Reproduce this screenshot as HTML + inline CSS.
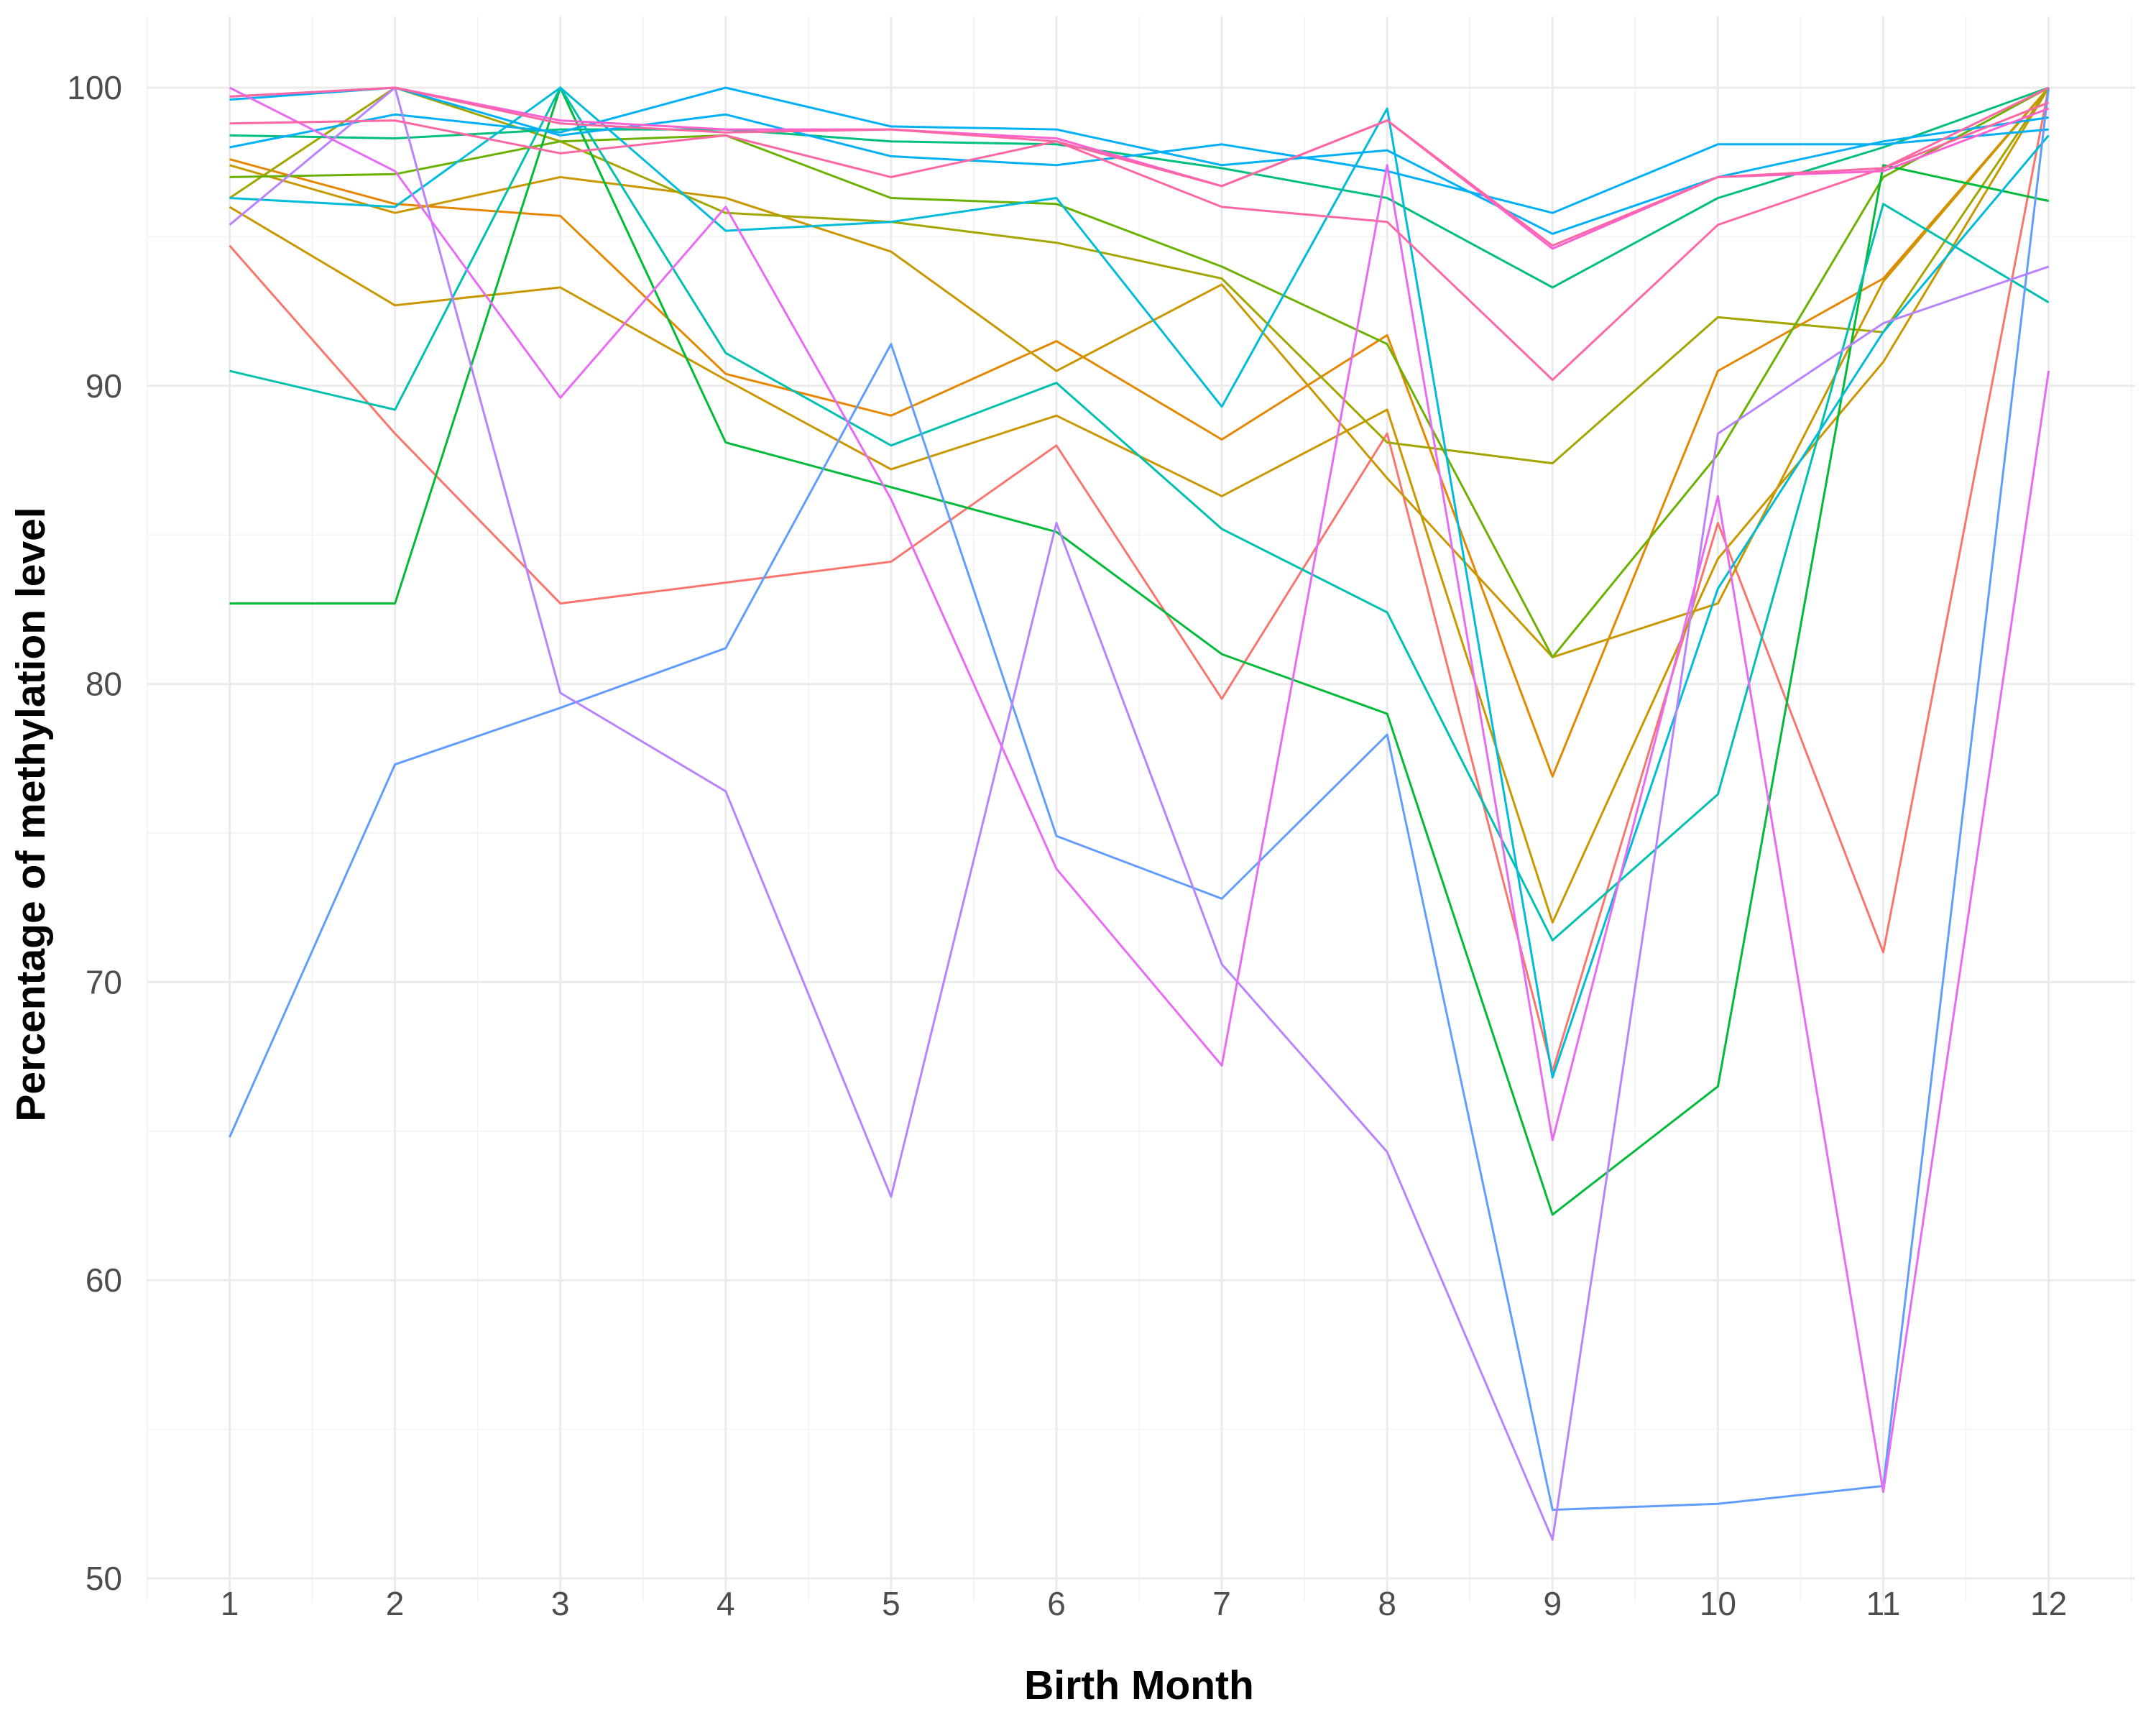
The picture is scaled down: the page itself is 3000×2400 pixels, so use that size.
<!DOCTYPE html>
<html><head><meta charset="utf-8"><style>
html,body{margin:0;padding:0;background:#fff}
svg{display:block;font-family:"Liberation Sans",sans-serif}
</style></head><body>
<svg id="chart" width="3000" height="2400" viewBox="0 0 3000 2400" xmlns="http://www.w3.org/2000/svg">
<g id="grid"></g>
<g id="lines"></g>
<g id="axes"></g>
<text x="1585" y="2364" font-size="57" font-weight="bold" text-anchor="middle">Birth Month</text>
<text transform="translate(62,1133) rotate(-90)" font-size="57" font-weight="bold" text-anchor="middle">Percentage of methylation level</text>
</svg>
<script>
const months = [1,2,3,4,5,6,7,8,9,10,11,12];
const yTicks = [50,60,70,80,90,100];
const colors = ["#F8766D","#E58700","#C99800","#C99800","#A3A500","#6BB100","#00BA38","#00BF7D","#00C0AF","#00BCD8","#00B0F6","#00B0F6","#619CFF","#B983FF","#E76BF3","#FF67A4","#FD61D1","#FF67A4"];
const s0 = [94.7,88.4,82.7,83.4,84.1,88,79.5,88.4,67,85.4,71,100];
const s1 = [97.6,96.1,95.7,90.4,89,91.5,88.2,91.7,76.9,90.5,93.6,100];
const s2 = [96,92.7,93.3,90.2,87.2,89,86.3,89.2,72,84.2,90.8,100];
const s3 = [97.4,95.8,97,96.3,94.5,90.5,93.4,86.9,80.9,82.7,93.5,100];
const s4 = [96.3,100,98.2,95.8,95.5,94.8,93.6,88.1,87.4,92.3,91.8,100];
const s5 = [97,97.1,98.2,98.4,96.3,96.1,94,91.4,80.9,87.7,97,100];
const s6 = [82.7,82.7,100,88.1,86.6,85.1,81,79,62.2,66.5,97.4,96.2];
const s7 = [98.4,98.3,98.6,98.6,98.2,98.1,97.3,96.3,93.3,96.3,98,100];
const s8 = [90.5,89.2,100,91.1,88,90.1,85.2,82.4,71.4,76.3,96.1,92.8];
const s9 = [96.3,96,100,95.2,95.5,96.3,89.3,99.3,66.8,83.2,91.8,98.4];
const s10 = [99.6,100,98.4,99.1,97.7,97.4,98.1,97.2,95.8,98.1,98.1,98.6];
const s11 = [98,99.1,98.5,100,98.7,98.6,97.4,97.9,95.1,97,98.2,99];
const s12 = [64.8,77.3,79.2,81.2,91.4,74.9,72.8,78.3,52.3,52.5,53.1,100];
const s13 = [95.4,100,79.7,76.4,62.8,85.4,70.6,64.3,51.3,88.4,92.1,94];
const s14 = [100,97.2,89.6,96,86.2,73.8,67.2,97.4,64.7,86.3,52.9,90.5];
const s15 = [98.8,98.9,97.8,98.4,97,98.2,96,95.5,90.2,95.4,97.3,100];
const s16 = [99.7,100,98.9,98.6,98.6,98.3,96.7,98.9,94.6,97,97.2,99.3];
const s17 = [99.7,100,98.8,98.5,98.6,98.2,96.7,98.9,94.7,97,97.3,99.5];
const series = [s0,s1,s2,s3,s4,s5,s6,s7,s8,s9,s10,s11,s12,s13,s14,s15,s16,s17];

const NS = "http://www.w3.org/2000/svg";
const L = 205, R = 2971, T = 23, B = 2229;
const xScale = m => 319.5 + (m - 1) * 230.1;
const yScale = v => 122 + (100 - v) * 41.48;
function mk(tag, attrs, parent){const e=document.createElementNS(NS,tag);for(const k in attrs)e.setAttribute(k,attrs[k]);parent.appendChild(e);return e;}
const grid = document.getElementById('grid');
const lines = document.getElementById('lines');
const axes = document.getElementById('axes');
for (let i = 0; i < months.length + 1; i++) {
  const x = xScale(months[0] - 0.5 + i);
  const g = mk('line',{x1:x,x2:x,y1:T,y2:B,stroke:'#F2F2F2','stroke-width':1.5},grid);
  
  
}
for (let i = 0; i < yTicks.length; i++) {
  const y = yScale(yTicks[i] + 5);
  const g = mk('line',{x1:L,x2:R,y1:y,y2:y,stroke:'#F2F2F2','stroke-width':1.5},grid);
  
  
}
months.forEach(m => {
  const x = xScale(m);
  const g = mk('line',{x1:x,x2:x,y1:T,y2:B,stroke:'#EBEBEB','stroke-width':3},grid);
  
  
  const t = mk('text',{x:x,y:2247,'font-size':46,fill:'#4D4D4D','text-anchor':'middle'},axes);
  t.textContent = m;
  
  
});
yTicks.forEach(v => {
  const y = yScale(v);
  const g = mk('line',{x1:L,x2:R,y1:y,y2:y,stroke:'#EBEBEB','stroke-width':3},grid);
  
  
  const t = mk('text',{x:170,y:y+16,'font-size':46,fill:'#4D4D4D','text-anchor':'end'},axes);
  t.textContent = v;
  
  
});
series.forEach((s, i) => {
  const pts = s.map((v, j) => xScale(months[j]).toFixed(1) + ',' + yScale(v).toFixed(1)).join(' ');
  const p = mk('polyline',{points:pts,fill:'none',stroke:colors[i % colors.length],'stroke-width':3,'stroke-linejoin':'round'},lines);
  
  
});
</script>
</body></html>
